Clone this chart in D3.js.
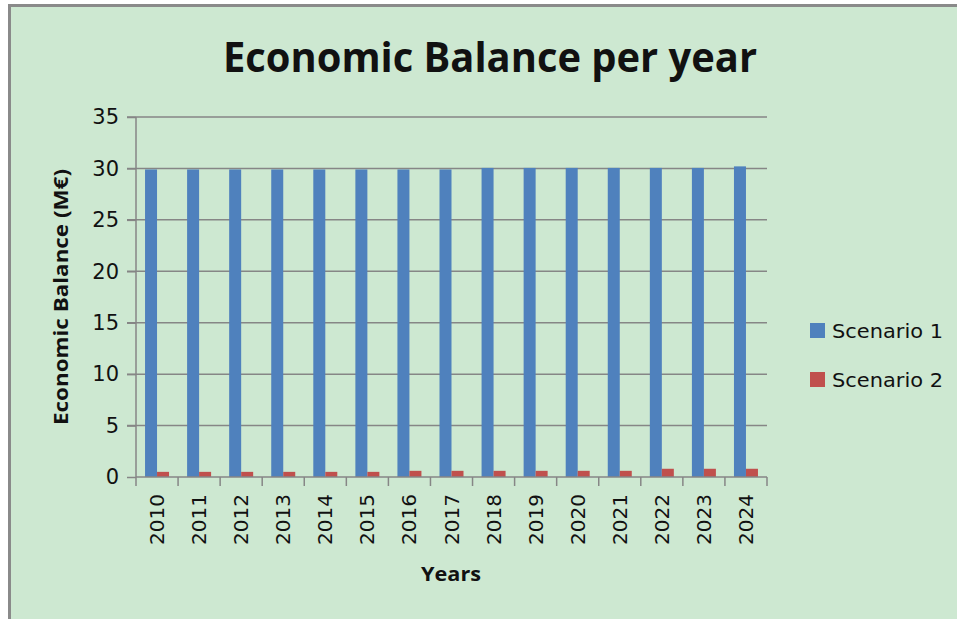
<!DOCTYPE html>
<html>
<head>
<meta charset="utf-8">
<script src="https://cdn.jsdelivr.net/npm/d3@7"></script>
<style>
  body { margin: 0; background: #fff; }
  text { fill: #111; }
</style>
</head>
<body>
<div id="chart"></div>
<script>
// Data
var years = ["2010","2011","2012","2013","2014","2015","2016","2017","2018","2019","2020","2021","2022","2023","2024"];
var scenario1 = [29.9,29.9,29.9,29.9,29.9,29.9,29.9,29.9,30.05,30.05,30.05,30.05,30.05,30.05,30.2];
var scenario2 = [0.5,0.5,0.5,0.5,0.5,0.5,0.6,0.6,0.6,0.6,0.6,0.6,0.8,0.8,0.8];
var seriesNames = ["Scenario 1","Scenario 2"];
var seriesColors = ["#4f81bd","#c0504d"];
var yTicks = [0,5,10,15,20,25,30,35];

var W = 957, H = 619;
var margin = {top: 117, right: 190, bottom: 142, left: 136};

var svg = d3.select("#chart").append("svg")
    .attr("width", W).attr("height", H);

// chart background + border
svg.append("rect")
    .attr("x", 9.5).attr("y", 5.5)
    .attr("width", W).attr("height", H)
    .attr("fill", "#cde8d1")
    .attr("stroke", "#8a8a8a").attr("stroke-width", 3);

svg.append("text")
    .attr("x", 490).attr("y", 72)
    .attr("text-anchor", "middle")
    .attr("font-family", "'Open Sans', sans-serif")
    .attr("font-weight", "bold")
    .attr("font-size", 41)
    .attr("textLength", 534).attr("lengthAdjust", "spacingAndGlyphs")
    .text("Economic Balance per year");

var x0 = d3.scaleBand().domain(years).range([margin.left, 767]).paddingInner(0).paddingOuter(0);
var y = d3.scaleLinear().domain([0, 35]).range([477, margin.top]);

// grid
svg.append("g").selectAll("line").data(yTicks.filter(function(d){ return d > 0; }))
  .enter().append("line")
    .attr("x1", margin.left - 9).attr("x2", 767)
    .attr("y1", function(d){ return y(d); }).attr("y2", function(d){ return y(d); })
    .attr("stroke", "#868686").attr("stroke-width", 1.5);

// bars
var rows = years.map(function(yr, i){ return {year: yr, vals: [scenario1[i], scenario2[i]]}; });
var bw = 12;
var g = svg.append("g").selectAll("g").data(rows).enter().append("g")
    .attr("transform", function(d){ return "translate(" + x0(d.year) + ",0)"; });
g.selectAll("rect").data(function(d){ return d.vals; }).enter().append("rect")
    .attr("x", function(d, i){ return x0.bandwidth() / 2 - bw + i * bw; })
    .attr("width", bw)
    .attr("y", function(d){ return y(d); })
    .attr("height", function(d){ return y(0) - y(d); })
    .attr("fill", function(d, i){ return seriesColors[i]; });

// y axis
var yAxis = d3.axisLeft(y).tickValues(yTicks).tickSize(9).tickPadding(8);
var ya = svg.append("g").attr("transform", "translate(" + margin.left + ",0)").call(yAxis);
ya.select(".domain").attr("stroke", "#868686").attr("stroke-width", 1.5).attr("d", "M0," + y(35) + "V" + y(0));
ya.selectAll(".tick line").attr("stroke", "#868686").attr("stroke-width", 1.5);
ya.selectAll(".tick text")
    .attr("font-family", "'DejaVu Sans', sans-serif").attr("font-size", 21)
    .attr("fill", "#111");

// x axis
var xa = svg.append("g").attr("transform", "translate(0," + y(0) + ")")
    .call(d3.axisBottom(x0).tickSize(0).tickPadding(0));
xa.select(".domain").attr("stroke", "#868686").attr("stroke-width", 1.5).attr("d", "M" + margin.left + ",0H767");
xa.selectAll(".tick text")
    .attr("font-family", "'DejaVu Sans', sans-serif").attr("font-size", 20)
    .attr("fill", "#111")
    .attr("transform", "rotate(-90)")
    .attr("text-anchor", "end")
    .attr("x", -17).attr("y", 0).attr("dy", "0.35em");
// tick marks between categories
xa.append("g").selectAll("line").data(d3.range(years.length + 1)).enter().append("line")
    .attr("x1", function(i){ return margin.left + i * x0.bandwidth(); })
    .attr("x2", function(i){ return margin.left + i * x0.bandwidth(); })
    .attr("y1", 0).attr("y2", 9)
    .attr("stroke", "#868686").attr("stroke-width", 1.5);

// axis titles
svg.append("text")
    .attr("transform", "translate(68," + 297 + ") rotate(-90)")
    .attr("text-anchor", "middle")
    .attr("font-family", "'Open Sans', sans-serif").attr("font-weight", "bold")
    .attr("font-size", 20)
    .attr("textLength", 256).attr("lengthAdjust", "spacingAndGlyphs")
    .text("Economic Balance (M€)");

svg.append("text")
    .attr("x", 451).attr("y", 581)
    .attr("text-anchor", "middle")
    .attr("font-family", "'Open Sans', sans-serif").attr("font-weight", "bold")
    .attr("font-size", 20)
    .attr("textLength", 60).attr("lengthAdjust", "spacingAndGlyphs")
    .text("Years");

// legend
var leg = svg.append("g").selectAll("g").data(seriesNames).enter().append("g")
    .attr("transform", function(d, i){ return "translate(810," + (323 + i * 49) + ")"; });
leg.append("rect").attr("width", 15).attr("height", 15)
    .attr("fill", function(d, i){ return seriesColors[i]; });
leg.append("text").attr("x", 22).attr("y", 15)
    .attr("font-family", "'DejaVu Sans', sans-serif").attr("font-size", 20)
    .attr("textLength", 111).attr("lengthAdjust", "spacingAndGlyphs")
    .text(function(d){ return d; });
</script>
</body>
</html>
